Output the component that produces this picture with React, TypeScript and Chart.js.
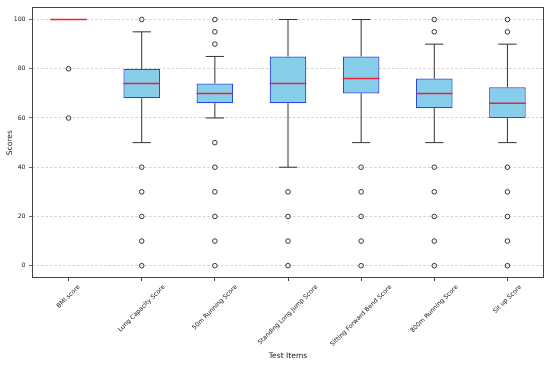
import React, { useEffect, useRef } from 'react';
import { Chart, registerables } from 'chart.js';

Chart.register(...registerables);

const categories = [
  'BMI score',
  'Lung Capacity Score',
  '50m Running Score',
  'Standing Long Jump Score',
  'Sitting Forward Bend Score',
  '800m Running Score',
  'Sit up Score',
];
const q1 = [100, 68, 66, 66, 70, 64, 60];
const medians = [100, 74, 70, 74, 76, 70, 66];
const q3 = [100, 80, 74, 85, 85, 76, 72.5];
const whiskerLow = [100, 50, 60, 40, 50, 50, 50];
const whiskerHigh = [100, 95, 85, 100, 100, 90, 90];
const outliers: number[][] = [
  [80, 60],
  [100, 40, 30, 20, 10, 0],
  [100, 95, 90, 50, 40, 30, 20, 10, 0],
  [30, 20, 10, 0],
  [40, 30, 20, 10, 0],
  [100, 95, 40, 30, 20, 10, 0],
  [100, 95, 40, 30, 20, 10, 0],
];
const yTicks = [0, 20, 40, 60, 80, 100];

const FONT = 'DejaVu Sans';
const TEXT = '#161616';
const FRAME = '#444';

const boxPartsPlugin = {
  id: 'boxParts',
  afterDatasetsDraw(chart: any) {
    const ctx = chart.ctx;
    const x = chart.scales.x;
    const y = chart.scales.y;
    const meta = chart.getDatasetMeta(0);
    ctx.save();
    for (let i = 0; i < categories.length; i++) {
      const cx = x.getPixelForValue(i);
      const bar = meta.data[i];
      const half = bar ? bar.width / 2 : 18;
      const capHalf = half / 2;
      ctx.strokeStyle = '#333';
      ctx.lineWidth = 1;
      ctx.setLineDash([]);
      ctx.beginPath();
      ctx.moveTo(cx, y.getPixelForValue(q3[i]));
      ctx.lineTo(cx, y.getPixelForValue(whiskerHigh[i]));
      ctx.moveTo(cx, y.getPixelForValue(q1[i]));
      ctx.lineTo(cx, y.getPixelForValue(whiskerLow[i]));
      ctx.moveTo(cx - capHalf, y.getPixelForValue(whiskerHigh[i]));
      ctx.lineTo(cx + capHalf, y.getPixelForValue(whiskerHigh[i]));
      ctx.moveTo(cx - capHalf, y.getPixelForValue(whiskerLow[i]));
      ctx.lineTo(cx + capHalf, y.getPixelForValue(whiskerLow[i]));
      ctx.stroke();
      ctx.strokeStyle = '#f0203a';
      ctx.lineWidth = 1.5;
      ctx.beginPath();
      const my = y.getPixelForValue(medians[i]);
      ctx.moveTo(cx - half, my);
      ctx.lineTo(cx + half, my);
      ctx.stroke();
    }
    ctx.restore();
  },
  afterDraw(chart: any) {
    const ctx = chart.ctx;
    const a = chart.chartArea;
    const x = chart.scales.x;
    ctx.save();
    ctx.setLineDash([]);
    ctx.strokeStyle = FRAME;
    ctx.lineWidth = 1;
    ctx.strokeRect(Math.round(a.left) + 0.5, Math.round(a.top) + 0.5, Math.round(a.right - a.left) - 1, Math.round(a.bottom - a.top) - 1);
    const fs = 6.2;
    ctx.font = `${fs}px "${FONT}"`;
    ctx.fillStyle = TEXT;
    ctx.textAlign = 'center';
    ctx.textBaseline = 'middle';
    const top = a.bottom + 5.5;
    for (let i = 0; i < categories.length; i++) {
      const w = ctx.measureText(categories[i]).width;
      const h = fs * 1.15;
      const cy = top + ((w + h) * Math.SQRT1_2) / 2;
      const cx = x.getPixelForTick(i);
      ctx.save();
      ctx.translate(cx, cy);
      ctx.rotate(-Math.PI / 4);
      ctx.fillText(categories[i], 0, 0);
      ctx.restore();
    }
    ctx.restore();
  },
};

export default function App() {
  const ref = useRef<HTMLCanvasElement | null>(null);
  useEffect(() => {
    if (!ref.current) return;
    const outlierPoints: { x: string; y: number }[] = [];
    outliers.forEach((arr, i) => arr.forEach((v) => outlierPoints.push({ x: categories[i], y: v })));
    const chart = new Chart(ref.current, {
      type: 'bar',
      data: {
        labels: categories,
        datasets: [
          {
            type: 'bar',
            data: categories.map((_, i) => [q1[i], q3[i]]) as any,
            backgroundColor: '#87ceeb',
            borderColor: '#2a48dc',
            borderWidth: 1.2,
            borderSkipped: false,
            barPercentage: 0.5,
            categoryPercentage: 1,
          } as any,
          {
            type: 'line',
            data: outlierPoints as any,
            showLine: false,
            pointStyle: 'circle',
            pointRadius: 2.3,
            pointBorderWidth: 1,
            pointBorderColor: '#333',
            pointBackgroundColor: 'rgba(255,255,255,0)',
          } as any,
        ],
      },
      options: {
        responsive: false,
        animation: false,
        layout: { padding: { top: 6, right: 6, left: 0, bottom: 0 } },
        plugins: { legend: { display: false }, tooltip: { enabled: false } },
        scales: {
          x: {
            type: 'category',
            offset: true,
            grid: {
              display: true,
              offset: false,
              drawOnChartArea: false,
              drawTicks: true,
              tickLength: 3,
              tickColor: FRAME,
              tickBorderDash: [],
            },
            border: { display: false },
            ticks: { display: false },
            title: {
              display: true,
              text: 'Test Items',
              color: TEXT,
              font: { family: FONT, size: 7.6 },
              padding: { top: 0, bottom: 4.5 },
            },
            afterFit: (s: any) => {
              s.height = 87;
            },
          },
          y: {
            type: 'linear',
            min: -5,
            max: 105,
            afterBuildTicks: (s: any) => {
              s.ticks = yTicks.map((v) => ({ value: v }));
            },
            grid: {
              display: true,
              color: 'rgba(185,185,185,0.8)',
              lineWidth: 0.8,
              drawTicks: true,
              tickLength: 3,
              tickColor: FRAME,
              tickBorderDash: [],
            },
            border: { display: false, dash: [2.5, 2] },
            ticks: {
              color: TEXT,
              font: { family: FONT, size: 6.2 },
              padding: 3.5,
            },
            title: {
              display: true,
              text: 'Scores',
              color: TEXT,
              font: { family: FONT, size: 7.6 },
              padding: { top: 5, bottom: 0 },
            },
            afterFit: (s: any) => {
              s.width = 32;
            },
          },
        },
      } as any,
      plugins: [boxPartsPlugin],
    });
    return () => chart.destroy();
  }, []);
  return (
    <div style={{ position: 'fixed', left: 0, top: 0, width: 550, height: 365, background: '#fff' }}>
      <canvas ref={ref} width={550} height={365} style={{ width: 550, height: 365 }} />
    </div>
  );
}
